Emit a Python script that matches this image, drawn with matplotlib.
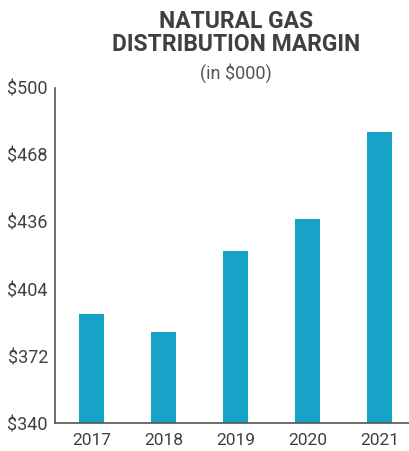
import numpy as np
import matplotlib.pyplot as plt

years = ["2017", "2018", "2019", "2020", "2021"]
margin = [392, 383.5, 422, 437.5, 479]
yticks = [340, 372, 404, 436, 468, 500]

plt.rcParams['font.family'] = ['Roboto', 'DejaVu Sans']
txt = '#404040'

fig = plt.figure(figsize=(4.1, 4.51), dpi=100)
ax = fig.add_axes([0.134, 0.062, 0.866, 0.743])

x = np.arange(len(years))
ax.bar(x, margin, width=0.347, color='#17a2c7')

ax.set_xlim(-0.507, 4.42)
ax.set_ylim(340, 500)
ax.set_yticks(yticks)
ax.set_yticklabels(["$%d" % v for v in yticks])
ax.set_xticks(x)
ax.set_xticklabels(years)
ax.tick_params(axis='both', length=0, colors=txt, labelsize=12.5)
ax.tick_params(axis='y', pad=5, labelsize=13)
ax.tick_params(axis='x', pad=7)

for s in ['top', 'right']:
    ax.spines[s].set_visible(False)
for s in ['left', 'bottom']:
    ax.spines[s].set_color('#555555')
    ax.spines[s].set_linewidth(1.2)

fig.text(0.576, 0.926, "NATURAL GAS\nDISTRIBUTION MARGIN", ha='center', va='center',
         fontsize=16.5, fontweight='bold', color=txt, linespacing=1.0)
fig.text(0.576, 0.838, "(in $000)", ha='center', va='center', fontsize=13, color='#555555')

fig.savefig("out.png", dpi=100)
